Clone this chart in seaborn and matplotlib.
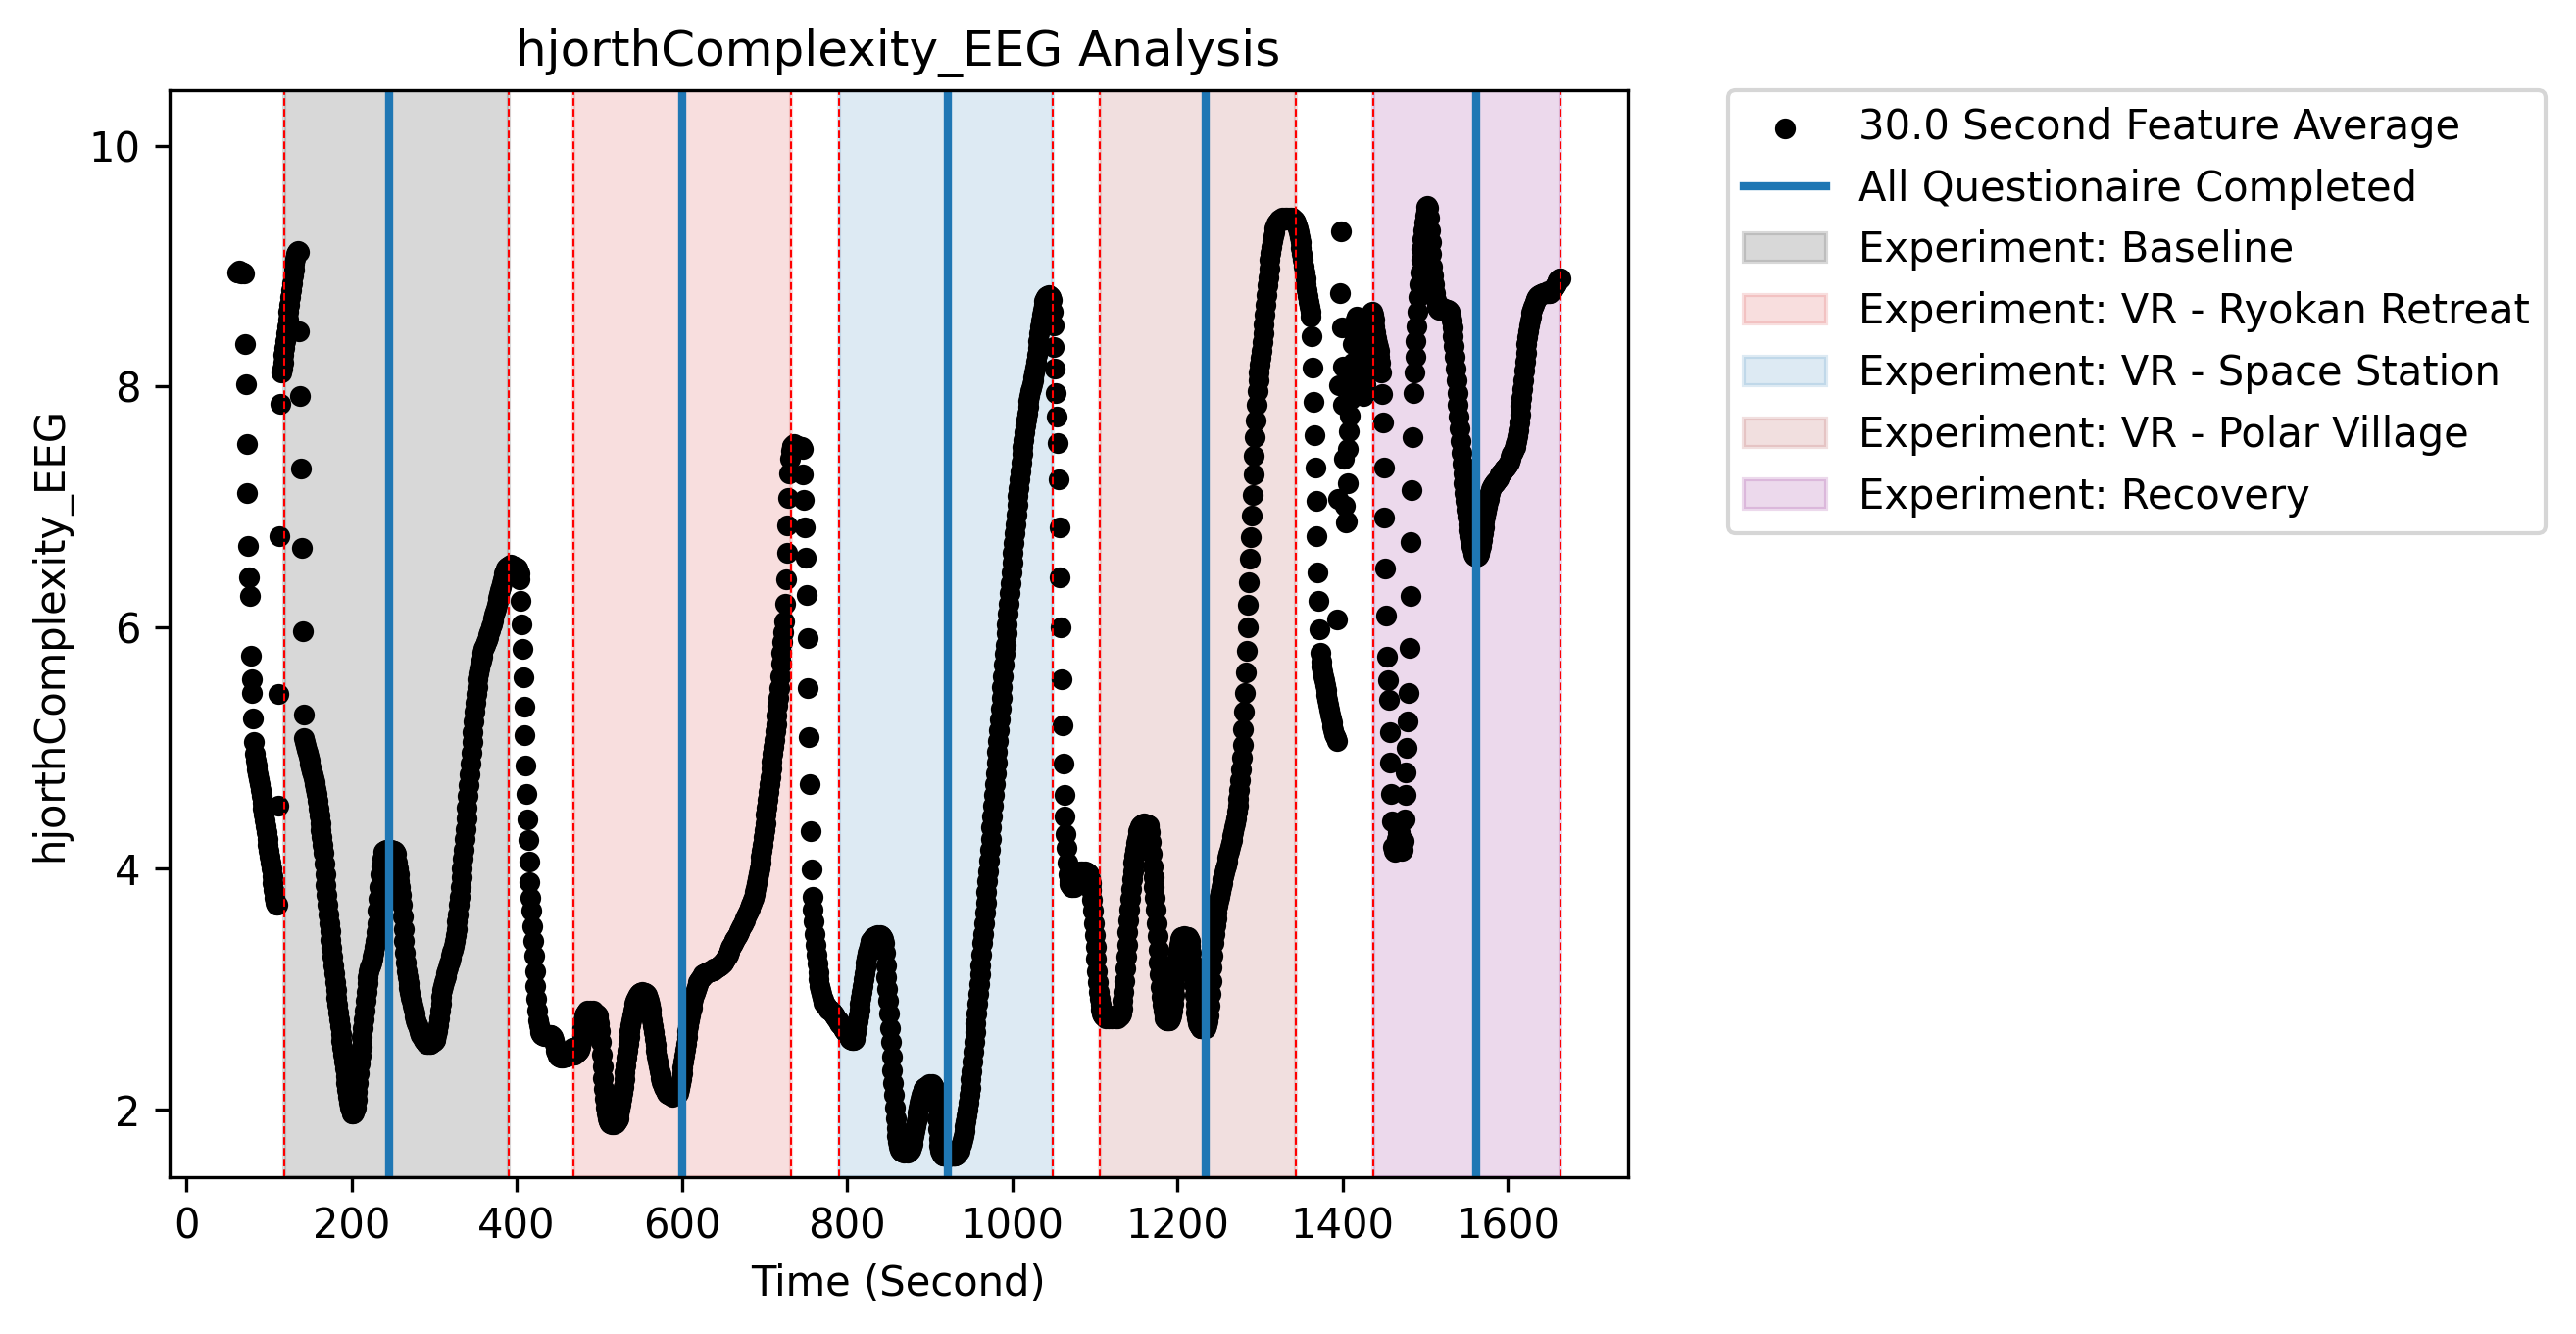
import numpy as np
import pandas as pd
import matplotlib
matplotlib.use("Agg")
import matplotlib.pyplot as plt
import seaborn as sns

# ---------------- data (1 s sampling grid) ----------------
pre_t0 = 62
pre_vals = [
    8.95, 8.95, 8.96, 8.95, 8.95, 8.94, 8.95, 8.95, 8.94, 8.35,
    8.02, 7.52, 7.12, 6.68, 6.42, 6.26, 5.77, 5.57, 5.46, 5.25,
    5.05, 4.95, 4.90, 4.86, 4.82, 4.78, 4.74, 4.70, 4.65, 4.60,
    4.55, 4.50, 4.45, 4.40, 4.35, 4.30, 4.25, 4.20, 4.15, 4.10,
    4.05, 4.00, 3.94, 3.88, 3.82, 3.76, 3.72, 3.70, 3.70, 4.52,
    5.45, 6.76, 7.86, 8.12, 8.15, 8.20, 8.26,
]

base_t0 = 119
base_vals = [
    8.32, 8.38, 8.44, 8.50, 8.56, 8.62, 8.68, 8.74, 8.80, 8.86,
    8.92, 8.97, 9.02, 9.06, 9.10, 9.12, 9.13, 9.12, 8.46, 7.92,
    7.32, 6.66, 5.97, 5.28, 5.08, 5.05, 5.02, 4.99, 4.96, 4.93,
    4.90, 4.87, 4.84, 4.81, 4.78, 4.75, 4.72, 4.70, 4.66, 4.62,
    4.56, 4.50, 4.44, 4.38, 4.32, 4.26, 4.20, 4.13, 4.04, 3.95,
    3.86, 3.78, 3.70, 3.62, 3.55, 3.48, 3.41, 3.34, 3.27, 3.20,
    3.13, 3.06, 2.99, 2.93, 2.87, 2.81, 2.75, 2.69, 2.63, 2.57,
    2.51, 2.46, 2.40, 2.34, 2.28, 2.22, 2.16, 2.11, 2.06, 2.02,
    2.00, 1.98, 1.97, 1.97, 1.98, 2.00, 2.02, 2.08, 2.15, 2.22,
    2.30, 2.38, 2.45, 2.52, 2.60, 2.68, 2.75, 2.82, 2.90, 2.98,
    3.05, 3.10, 3.15, 3.18, 3.20, 3.22, 3.25, 3.27, 3.30, 3.35,
    3.40, 3.47, 3.55, 3.65, 3.75, 3.85, 3.95, 4.02, 4.08, 4.11,
    4.14, 4.15, 4.15, 4.16, 4.15, 4.15, 4.16, 4.15, 4.15, 4.16,
    4.15, 4.15, 4.14, 4.15, 4.14, 4.12, 4.05, 4.00, 3.95, 3.90,
    3.85, 3.78, 3.70, 3.60, 3.50, 3.40, 3.30, 3.22, 3.15, 3.10,
    3.05, 3.01, 2.97, 2.93, 2.90, 2.86, 2.83, 2.80, 2.77, 2.74,
    2.72, 2.70, 2.68, 2.66, 2.64, 2.62, 2.61, 2.60, 2.58, 2.57,
    2.56, 2.56, 2.55, 2.55, 2.55, 2.56, 2.55, 2.55, 2.56, 2.56,
    2.56, 2.57, 2.58, 2.59, 2.62, 2.65, 2.70, 2.76, 2.82, 2.88,
    2.94, 2.99, 3.03, 3.06, 3.08, 3.11, 3.13, 3.16, 3.18, 3.21,
    3.23, 3.26, 3.28, 3.31, 3.33, 3.36, 3.40, 3.45, 3.50, 3.56,
    3.62, 3.70, 3.77, 3.85, 3.93, 4.00, 4.08, 4.16, 4.25, 4.33,
    4.42, 4.51, 4.60, 4.69, 4.78, 4.87, 4.96, 5.05, 5.13, 5.22,
    5.30, 5.38, 5.45, 5.51, 5.57, 5.62, 5.66, 5.70, 5.73, 5.76,
    5.79, 5.82, 5.84, 5.86, 5.88, 5.90, 5.92, 5.94, 5.96, 5.98,
    6.01, 6.03, 6.06, 6.08, 6.11, 6.13, 6.16, 6.19, 6.22, 6.25,
    6.28, 6.31, 6.34, 6.37, 6.40, 6.42, 6.45, 6.47, 6.49, 6.50,
    6.51, 6.51, 6.51,
]

rest1_t0 = 392
rest1_vals = [
    6.51, 6.52, 6.51, 6.51, 6.51, 6.50, 6.51, 6.50, 6.50, 6.49,
    6.47, 6.45, 6.40, 6.22, 6.03, 5.82, 5.59, 5.34, 5.11, 4.86,
    4.62, 4.41, 4.24, 4.06, 3.89, 3.76, 3.65, 3.52, 3.40, 3.28,
    3.15, 3.03, 2.92, 2.82, 2.74, 2.70, 2.66, 2.64, 2.63, 2.62,
    2.62, 2.61, 2.62, 2.62, 2.61, 2.62, 2.61, 2.62, 2.62, 2.61,
    2.62, 2.61, 2.60, 2.58, 2.55, 2.52, 2.49, 2.47, 2.45, 2.44,
    2.44, 2.43, 2.44, 2.44, 2.43, 2.44, 2.44, 2.45, 2.44, 2.45,
    2.46, 2.47, 2.48, 2.49, 2.50, 2.50, 2.51,
]

ryokan_t0 = 469
ryokan_vals = [
    2.46, 2.46, 2.47, 2.47, 2.48, 2.48, 2.49, 2.50, 2.52, 2.56,
    2.62, 2.68, 2.74, 2.78, 2.80, 2.81, 2.81, 2.82, 2.81, 2.81,
    2.82, 2.81, 2.81, 2.82, 2.81, 2.81, 2.80, 2.80, 2.79, 2.78,
    2.76, 2.72, 2.65, 2.56, 2.46, 2.36, 2.26, 2.17, 2.09, 2.02,
    1.97, 1.93, 1.91, 1.90, 1.89, 1.89, 1.88, 1.89, 1.89, 1.88,
    1.89, 1.89, 1.90, 1.91, 1.93, 1.96, 2.00, 2.04, 2.09, 2.14,
    2.19, 2.25, 2.31, 2.37, 2.43, 2.49, 2.55, 2.60, 2.65, 2.70,
    2.74, 2.78, 2.82, 2.85, 2.88, 2.90, 2.92, 2.94, 2.95, 2.96,
    2.97, 2.97, 2.97, 2.98, 2.97, 2.97, 2.97, 2.96, 2.96, 2.95,
    2.93, 2.90, 2.87, 2.83, 2.79, 2.74, 2.69, 2.64, 2.59, 2.54,
    2.49, 2.44, 2.40, 2.36, 2.32, 2.29, 2.26, 2.23, 2.21, 2.19,
    2.17, 2.16, 2.15, 2.14, 2.13, 2.13, 2.12, 2.12, 2.12, 2.12,
    2.11, 2.12, 2.12, 2.12, 2.12, 2.13, 2.13, 2.14, 2.17, 2.21,
    2.25, 2.30, 2.35, 2.40, 2.45, 2.50, 2.55, 2.60, 2.65, 2.69,
    2.74, 2.78, 2.82, 2.85, 2.89, 2.92, 2.95, 2.97, 2.99, 3.02,
    3.04, 3.06, 3.07, 3.08, 3.09, 3.10, 3.11, 3.12, 3.12, 3.13,
    3.13, 3.14, 3.14, 3.14, 3.15, 3.15, 3.15, 3.16, 3.16, 3.16,
    3.17, 3.17, 3.17, 3.18, 3.18, 3.19, 3.19, 3.20, 3.20, 3.21,
    3.21, 3.22, 3.23, 3.24, 3.25, 3.26, 3.28, 3.29, 3.31, 3.32,
    3.34, 3.36, 3.37, 3.38, 3.40, 3.41, 3.42, 3.43, 3.44, 3.46,
    3.47, 3.48, 3.50, 3.51, 3.53, 3.54, 3.56, 3.57, 3.59, 3.60,
    3.62, 3.64, 3.65, 3.67, 3.68, 3.70, 3.72, 3.74, 3.76, 3.79,
    3.81, 3.84, 3.88, 3.92, 3.96, 4.00, 4.05, 4.10, 4.15, 4.20,
    4.26, 4.32, 4.38, 4.45, 4.51, 4.57, 4.64, 4.70, 4.76, 4.83,
    4.89, 4.95, 5.01, 5.07, 5.14, 5.20, 5.27, 5.35, 5.42, 5.50,
    5.60, 5.70, 5.79, 5.88, 5.96, 6.05, 6.20, 6.40, 6.62, 6.85,
    7.08, 7.28, 7.40,
]

rest2_t0 = 732
rest2_vals = [
    7.47, 7.50, 7.51, 7.50, 7.52, 7.50, 7.51, 7.49, 7.50, 7.51,
    7.50, 7.50, 7.49, 7.50, 7.48, 7.27, 7.06, 6.83, 6.58, 6.27,
    5.91, 5.50, 5.09, 4.70, 4.31, 3.99, 3.77, 3.66, 3.56, 3.46,
    3.37, 3.29, 3.21, 3.14, 3.08, 3.03, 2.99, 2.96, 2.93, 2.91,
    2.89, 2.88, 2.87, 2.86, 2.85, 2.84, 2.83, 2.83, 2.82, 2.82,
    2.81, 2.80, 2.79, 2.78, 2.77, 2.76, 2.75, 2.74, 2.73,
]

space_t0 = 791
space_vals = [
    2.72, 2.71, 2.70, 2.69, 2.68, 2.67, 2.66, 2.65, 2.64, 2.63,
    2.62, 2.61, 2.60, 2.59, 2.59, 2.58, 2.58, 2.58, 2.59, 2.61,
    2.64, 2.68, 2.73, 2.78, 2.83, 2.88, 2.93, 2.98, 3.03, 3.08,
    3.13, 3.18, 3.22, 3.26, 3.30, 3.33, 3.36, 3.38, 3.40, 3.41,
    3.42, 3.43, 3.43, 3.44, 3.44, 3.44, 3.45, 3.44, 3.44, 3.45,
    3.44, 3.44, 3.43, 3.42, 3.38, 3.30, 3.20, 3.10, 3.00, 2.90,
    2.80, 2.68, 2.56, 2.44, 2.33, 2.22, 2.12, 2.02, 1.93, 1.85,
    1.78, 1.73, 1.69, 1.67, 1.66, 1.65, 1.65, 1.65, 1.64, 1.65,
    1.65, 1.65, 1.64, 1.65, 1.65, 1.66, 1.67, 1.69, 1.72, 1.75,
    1.78, 1.82, 1.86, 1.90, 1.94, 1.98, 2.02, 2.06, 2.09, 2.12,
    2.14, 2.16, 2.17, 2.18, 2.19, 2.19, 2.20, 2.20, 2.20, 2.21,
    2.20, 2.20, 2.21, 2.20, 2.20, 2.18, 2.12, 2.03, 1.93, 1.84,
    1.76, 1.70, 1.66, 1.64, 1.63, 1.62, 1.62, 1.62, 1.62, 1.62,
    1.62, 1.61, 1.62, 1.62, 1.62, 1.62, 1.62, 1.62, 1.62, 1.62,
    1.62, 1.63, 1.63, 1.64, 1.65, 1.66, 1.68, 1.70, 1.72, 1.75,
    1.78, 1.82, 1.86, 1.90, 1.95, 2.00, 2.06, 2.12, 2.18, 2.25,
    2.32, 2.40, 2.48, 2.56, 2.64, 2.72, 2.80, 2.88, 2.96, 3.04,
    3.12, 3.20, 3.29, 3.38, 3.46, 3.55, 3.64, 3.72, 3.81, 3.90,
    3.98, 4.07, 4.16, 4.25, 4.34, 4.43, 4.52, 4.61, 4.70, 4.79,
    4.88, 4.97, 5.06, 5.15, 5.24, 5.33, 5.42, 5.51, 5.60, 5.69,
    5.78, 5.86, 5.95, 6.03, 6.12, 6.20, 6.29, 6.37, 6.46, 6.54,
    6.62, 6.70, 6.78, 6.86, 6.94, 7.02, 7.09, 7.16, 7.23, 7.30,
    7.37, 7.44, 7.50, 7.56, 7.62, 7.68, 7.73, 7.78, 7.83, 7.88,
    7.92, 7.96, 7.99, 8.02, 8.05, 8.08, 8.12, 8.16, 8.21, 8.26,
    8.32, 8.38, 8.44, 8.50, 8.55, 8.60, 8.64, 8.68, 8.71, 8.73,
    8.74, 8.75, 8.75, 8.76, 8.75, 8.75, 8.74, 8.72,
]

rest3_t0 = 1049
rest3_vals = [
    8.62, 8.51, 8.33, 8.15, 7.95, 7.75, 7.53, 7.23, 6.83, 6.42,
    6.00, 5.57, 5.19, 4.87, 4.61, 4.43, 4.29, 4.17, 4.05, 3.95,
    3.90, 3.87, 3.86, 3.85, 3.85, 3.86, 3.85, 3.86, 3.88, 3.92,
    3.96, 3.97, 3.97, 3.98, 3.97, 3.97, 3.98, 3.97, 3.97, 3.97,
    3.98, 3.97, 3.97, 3.96, 3.95, 3.92, 3.88, 3.82, 3.74, 3.65,
    3.55, 3.45, 3.35, 3.25, 3.15, 3.06, 2.98,
]

polar_t0 = 1106
polar_vals = [
    2.92, 2.87, 2.83, 2.80, 2.78, 2.77, 2.77, 2.76, 2.77, 2.77,
    2.77, 2.76, 2.77, 2.77, 2.76, 2.77, 2.77, 2.78, 2.77, 2.76,
    2.77, 2.77, 2.76, 2.77, 2.77, 2.78, 2.80, 2.84, 2.90, 2.98,
    3.07, 3.17, 3.27, 3.37, 3.47, 3.57, 3.66, 3.75, 3.83, 3.91,
    3.98, 4.05, 4.11, 4.16, 4.21, 4.25, 4.28, 4.31, 4.33, 4.35,
    4.36, 4.37, 4.37, 4.37, 4.38, 4.37, 4.37, 4.37, 4.36, 4.36,
    4.34, 4.30, 4.22, 4.12, 4.02, 3.93, 3.85, 3.76, 3.66, 3.55,
    3.44, 3.33, 3.22, 3.12, 3.02, 2.94, 2.87, 2.82, 2.78, 2.76,
    2.75, 2.74, 2.74, 2.74, 2.74, 2.75, 2.76, 2.78, 2.82, 2.88,
    2.95, 3.03, 3.11, 3.19, 3.26, 3.32, 3.37, 3.40, 3.42, 3.43,
    3.43, 3.43, 3.44, 3.43, 3.43, 3.42, 3.43, 3.43, 3.42, 3.40,
    3.36, 3.30, 3.22, 3.13, 3.04, 2.95, 2.87, 2.81, 2.76, 2.72,
    2.70, 2.69, 2.68, 2.68, 2.68, 2.68, 2.68, 2.68, 2.68, 2.69,
    2.70, 2.73, 2.78, 2.86, 2.96, 3.07, 3.18, 3.28, 3.38, 3.46,
    3.53, 3.59, 3.64, 3.69, 3.73, 3.77, 3.81, 3.85, 3.88, 3.91,
    3.94, 3.97, 4.00, 4.03, 4.06, 4.09, 4.12, 4.15, 4.18, 4.21,
    4.24, 4.27, 4.30, 4.34, 4.38, 4.42, 4.47, 4.52, 4.58, 4.65,
    4.73, 4.82, 4.92, 5.03, 5.16, 5.30, 5.46, 5.63, 5.81, 6.00,
    6.19, 6.38, 6.57, 6.75, 6.93, 7.10, 7.27, 7.43, 7.58, 7.72,
    7.85, 7.96, 8.05, 8.12, 8.18, 8.24, 8.30, 8.37, 8.44, 8.52,
    8.60, 8.68, 8.76, 8.84, 8.91, 8.98, 9.05, 9.11, 9.16, 9.21,
    9.25, 9.28, 9.31, 9.33, 9.35, 9.36, 9.37, 9.38, 9.39, 9.39,
    9.39, 9.40, 9.39, 9.39, 9.40, 9.39, 9.39, 9.40, 9.39, 9.39,
    9.40, 9.39, 9.39, 9.40, 9.39, 9.39, 9.38, 9.37,
]

rest4_t0 = 1344
rest4_vals = [
    9.36, 9.34, 9.31, 9.28, 9.24, 9.20, 9.15, 9.10, 9.05, 9.00,
    8.95, 8.90, 8.85, 8.80, 8.75, 8.70, 8.66, 8.62, 8.58, 8.42,
    8.16, 7.87, 7.60, 7.33, 7.05, 6.76, 6.46, 6.22, 5.99, 5.79,
    5.72, 5.68, 5.64, 5.60, 5.56, 5.52, 5.48, 5.44, 5.40, 5.36,
    5.32, 5.28, 5.25, 5.21, 5.18, 5.15, 5.12, 5.10, 5.08, 5.06,
    6.07, 7.07, 8.01, 8.78, 9.29, 8.49, 8.17, 7.85, 7.40, 7.01,
    6.87, 6.88, 7.20, 7.48, 7.63, 7.76, 7.90, 8.05, 8.20, 8.35,
    8.45, 8.52, 8.56, 8.58, 8.55, 8.50, 8.42, 8.33, 8.22, 8.12,
    8.03, 7.96, 7.92, 7.95, 8.02, 8.12, 8.24, 8.36, 8.46, 8.54,
    8.59, 8.61, 8.62,
]

recov_t0 = 1437
recov_vals = [
    8.60, 8.56, 8.50, 8.45, 8.40, 8.36, 8.33, 8.30, 8.25, 8.20,
    8.12, 7.94, 7.70, 7.33, 6.91, 6.49, 6.10, 5.76, 5.56, 5.40,
    5.13, 4.88, 4.62, 4.39, 4.18, 4.15, 4.14, 4.16, 4.20, 4.25,
    4.30, 4.35, 4.30, 4.24, 4.18, 4.15, 4.16, 4.23, 4.41, 4.61,
    4.80, 5.00, 5.22, 5.46, 5.83, 6.26, 6.71, 7.14, 7.58, 7.95,
    8.12, 8.25, 8.38, 8.50, 8.62, 8.74, 8.85, 8.95, 9.05, 9.14,
    9.22, 9.30, 9.36, 9.42, 9.46, 9.49, 9.50, 9.48, 9.40, 9.30,
    9.20, 9.10, 9.00, 8.92, 8.85, 8.78, 8.72, 8.68, 8.66, 8.65,
    8.64, 8.65, 8.66, 8.65, 8.64, 8.63, 8.64, 8.65, 8.64, 8.63,
    8.63, 8.64, 8.63, 8.62, 8.59, 8.55, 8.49, 8.42, 8.34, 8.25,
    8.15, 8.05, 7.95, 7.85, 7.75, 7.65, 7.55, 7.45, 7.36, 7.28,
    7.20, 7.12, 7.05, 6.98, 6.92, 6.86, 6.81, 6.76, 6.72, 6.68,
    6.65, 6.63, 6.61, 6.60, 6.60, 6.59, 6.60, 6.60, 6.61, 6.62,
    6.65, 6.68, 6.73, 6.78, 6.83, 6.88, 6.92, 6.96, 7.00, 7.04,
    7.07, 7.10, 7.12, 7.15, 7.17, 7.18, 7.19, 7.20, 7.21, 7.21,
    7.22, 7.23, 7.24, 7.26, 7.27, 7.28, 7.29, 7.30, 7.31, 7.32,
    7.32, 7.33, 7.34, 7.35, 7.36, 7.38, 7.40, 7.42, 7.44, 7.45,
    7.47, 7.49, 7.50, 7.52, 7.55, 7.59, 7.64, 7.70, 7.77, 7.84,
    7.91, 7.98, 8.05, 8.13, 8.21, 8.28, 8.35, 8.41, 8.46, 8.51,
    8.55, 8.58, 8.61, 8.64, 8.66, 8.68, 8.70, 8.72, 8.73, 8.74,
    8.75, 8.76, 8.76, 8.77, 8.77, 8.77, 8.78, 8.78, 8.78, 8.78,
    8.78, 8.78, 8.79, 8.78, 8.78, 8.79, 8.79, 8.80, 8.81, 8.82,
    8.83, 8.84, 8.86, 8.87, 8.88, 8.89, 8.90, 8.90,
]

phase_names = ["Experiment: Baseline", "Experiment: VR - Ryokan Retreat",
               "Experiment: VR - Space Station", "Experiment: VR - Polar Village",
               "Experiment: Recovery"]
phase_start = [119, 469, 791, 1106, 1437]
phase_end = [391, 732, 1049, 1344, 1664]
phase_colors = ["gray", "tab:red", "tab:blue", "brown", "purple"]
phase_alpha = [0.3, 0.15, 0.15, 0.15, 0.15]

questionnaire_times = [246, 600, 922, 1235, 1562]

# ---------------- build table ----------------
segments = [(pre_t0, pre_vals), (base_t0, base_vals), (rest1_t0, rest1_vals),
            (ryokan_t0, ryokan_vals), (rest2_t0, rest2_vals), (space_t0, space_vals),
            (rest3_t0, rest3_vals), (polar_t0, polar_vals), (rest4_t0, rest4_vals),
            (recov_t0, recov_vals)]
times = np.concatenate([t0 + np.arange(len(v)) for t0, v in segments])
values = np.concatenate([np.asarray(v, dtype=float) for _, v in segments])
df = pd.DataFrame({"Time (Second)": times, "hjorthComplexity_EEG": values})

# ---------------- figure ----------------
W, H, DPI = 2628, 1361, 300
fig = plt.figure(figsize=(W / DPI, H / DPI), dpi=DPI)
ax = fig.add_axes([172.5 / W, (H - 1201) / H, 1488 / W, 1109 / H])

span_handles = []
for name, s, e, c, a in zip(phase_names, phase_start, phase_end, phase_colors, phase_alpha):
    h = ax.axvspan(s, e, color=c, alpha=a, label=name)
    span_handles.append(h)
    ax.axvline(s, color="red", linestyle="--", linewidth=0.5)
    ax.axvline(e, color="red", linestyle="--", linewidth=0.5)

sns.scatterplot(data=df, x="Time (Second)", y="hjorthComplexity_EEG", color="black",
                s=26, linewidth=0, ax=ax, label="30.0 Second Feature Average", legend=False)
scat_handle = ax.collections[-1]

q_handle = None
for i, q in enumerate(questionnaire_times):
    ln = ax.axvline(q, color="tab:blue", linewidth=2,
                    label="All Questionaire Completed" if i == 0 else None)
    if i == 0:
        q_handle = ln

ax.set_xlim(-20.8, 1745.4)
ax.set_ylim(1.44, 10.46)
ax.set_title("hjorthComplexity_EEG Analysis")
ax.set_xlabel("Time (Second)")
ax.set_ylabel("hjorthComplexity_EEG")

handles = [scat_handle, q_handle] + span_handles
labels = ["30.0 Second Feature Average", "All Questionaire Completed"] + phase_names
ax.legend(handles, labels, loc="upper left", bbox_to_anchor=(1.0686, 1.0), borderaxespad=0)

fig.savefig("out.png", dpi=DPI)
